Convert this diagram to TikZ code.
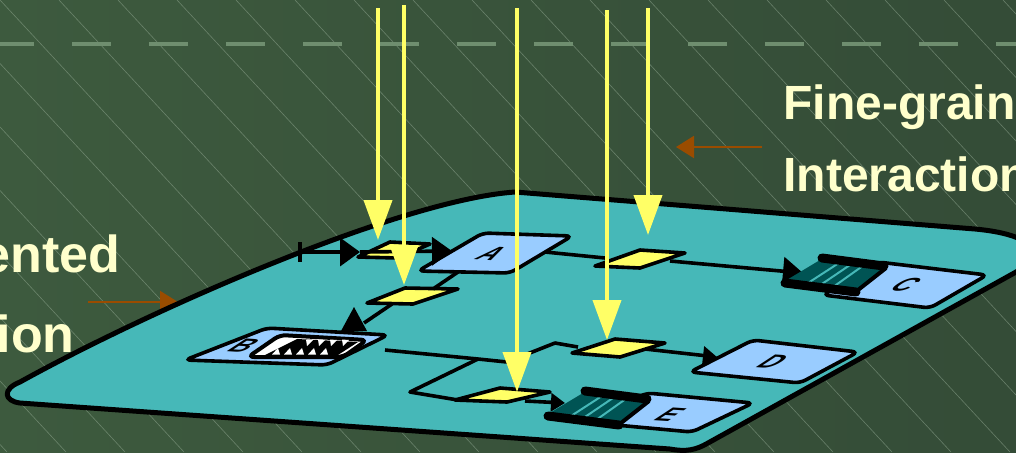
\documentclass[tikz,border=0pt]{standalone}
\usepackage{fontspec}
\setmainfont{Liberation Sans}
\usetikzlibrary{arrows.meta}
\definecolor{bgL}{HTML}{3D5A3E}
\definecolor{bgR}{HTML}{344C37}
\definecolor{hatchc}{HTML}{9AB09A}
\definecolor{dashc}{HTML}{6F8E6F}
\definecolor{boardc}{HTML}{46B8B8}
\definecolor{modc}{HTML}{99CCFF}
\definecolor{yel}{HTML}{FFFF66}
\definecolor{cream}{HTML}{FFFFCC}
\definecolor{brn}{HTML}{9A4C00}
\definecolor{qteal}{HTML}{005454}
\newcommand{\qicon}[2]{%
\begin{scope}[shift={(#1,#2)}]
\fill[qteal] (0,0) -- (66,8) -- (38,30) -- (-35,21) -- cycle;
\draw[boardc,line width=1pt] (19.8,2.4) -- (-13.1,23.7);
\draw[boardc,line width=1pt] (31.7,3.8) -- (0,25.3);
\draw[boardc,line width=1pt] (43.6,5.3) -- (13.2,26.9);
\draw[black,line width=4.5pt,line cap=round] (2,-2) -- (64,6);
\draw[black,line width=4.5pt,line cap=round] (-35,23) -- (36,32);
\draw[black,line width=2pt] (66,8) -- (38,30);
\end{scope}}
\begin{document}
\begin{tikzpicture}[x=0.5pt,y=-0.5pt,
  module/.style={fill=modc,draw=black,line width=1.8pt,rounded corners=3pt},
  ydia/.style={fill=yel,draw=black,line width=1.8pt,line join=round},
  conn/.style={draw=black,line width=1.8pt},
  bigtip/.style={-{Triangle[length=10pt,width=14pt]}},
  smalltip/.style={-{Triangle[length=7pt,width=9pt]}},
  yarrow/.style={draw=yel,line width=2pt,-{Triangle[length=20pt,width=14pt]}},
  oarrow/.style={draw=brn,line width=1pt,-{Triangle[length=9pt,width=11pt]}},
  lbl/.style={font=\bfseries\fontsize{14}{14}\selectfont,xslant=1.4,yscale=0.66,rotate=-5,inner sep=0},
  lefttext/.style={text=cream,font=\bfseries\fontsize{26}{30}\selectfont,inner sep=0,anchor=base east},
  righttext/.style={text=cream,font=\bfseries\fontsize{24}{28}\selectfont,inner sep=0,anchor=base west},
]
\useasboundingbox (0,0) rectangle (1016,452);
\clip (0,0) rectangle (1016,452);
% background
\shade[left color=bgL,right color=bgR] (0,0) rectangle (1016,452);
\foreach \i in {-9,...,18} \draw[hatchc,line width=0.3pt,opacity=0.5] (\i*59,0) -- ++(420,452);
\draw[dashc,line width=2pt,dash pattern=on 19.5pt off 19pt] (-5,44) -- (1040,44);
% texts
\node[lefttext] (t1) at (121,272) {ented};
\node[lefttext] (t2) at (75,352) {ion};
\node[righttext] (t3) at (783,119) {Fine-grain};
\node[righttext] (t4) at (783,191) {Interaction};
\coordinate (o1s) at (88,302);  \coordinate (o1e) at (178,302);
\coordinate (o2s) at (762,147); \coordinate (o2e) at (676,147);
\draw[oarrow] (o1s) -- (o1e);
\draw[oarrow] (o2s) -- (o2e);
% board
\draw[fill=boardc,draw=black,line width=2.5pt,line join=round]
  (20,403) .. controls (4,401) and (2,389) .. (20,382)
  .. controls (150,310) and (400,200) .. (515,192)
  -- (975,229) .. controls (1030,234) and (1050,252) .. (1016,272)
  -- (708,443) .. controls (696,450) and (686,452) .. (670,449) -- cycle;
% modules
\draw[module] (483,233) -- (572,236) -- (510,273) -- (418,271) -- cycle;
\draw[module] (267,328) -- (388,335) -- (327,365) -- (185,360) -- cycle;
\draw[module] (878,262) -- (987,275) -- (930,308) -- (823,295) -- cycle;
\draw[module] (753,340) -- (858,352) -- (800,383) -- (690,372) -- cycle;
\draw[module] (647,393) -- (753,403) -- (692,432) -- (583,422) -- cycle;
\node[lbl] (lA) at (492,254) {A};
\node[lbl] (lB) at (244,346) {B};
\node[lbl] (lC) at (906,285) {C};
\node[lbl] (lD) at (773,362) {D};
\node[lbl] (lE) at (670,415) {E};
% yellow diamonds
\draw[ydia] (390,242) -- (430,244) -- (398,258) -- (358,257) -- cycle;
\draw[ydia] (405,288) -- (458,289) -- (413,304) -- (367,303) -- cycle;
\draw[ydia] (640,250) -- (685,253) -- (640,268) -- (595,266) -- cycle;
\draw[ydia] (615,339) -- (665,343) -- (620,357) -- (572,353) -- cycle;
\draw[ydia] (500,388) -- (550,392) -- (507,402) -- (455,400) -- cycle;
% connection points
\coordinate (tick) at (300,252);
\coordinate (y1w) at (360,252);
\coordinate (ain) at (452,251);
\coordinate (abot) at (458,272);
\coordinate (y2n) at (433,289);
\coordinate (y2s) at (392,304);
\coordinate (bn) at (364,323);
\coordinate (aout) at (545,252);
\coordinate (y3w) at (605,258);
\coordinate (y3e) at (670,261);
\coordinate (cin) at (803,273);
\coordinate (bout) at (385,350);
\coordinate (jn) at (478,359);
\coordinate (k1) at (507,362);
\coordinate (k2) at (555,343);
\coordinate (y4w) at (578,347);
\coordinate (y4e) at (645,349);
\coordinate (din) at (717,357);
\coordinate (k3) at (410,392);
\coordinate (y5w) at (458,400);
\coordinate (y5e) at (525,401);
\coordinate (ein) at (565,403);
% connectors
\draw[conn] (300,242) -- (300,262);
\draw[conn,bigtip] (tick) -- (y1w);
\draw[conn,bigtip] (y1w) -- (ain);
\draw[conn] (abot) -- (y2n);
\draw[conn] (y2s) -- (bn);
\fill[black] (354,307) -- (367,331) -- (341,331) -- cycle;
\draw[conn] (aout) -- (y3w);
\draw[conn,bigtip] (y3e) -- (cin);
\draw[conn,line join=round] (bout) -- (jn) -- (k1) -- (k2) -- (y4w);
\draw[conn,smalltip] (y4e) -- (din);
\draw[conn,line join=round] (jn) -- (k3) -- (y5w);
\draw[conn,smalltip] (y5e) -- (ein);
% queue icons
\qicon{820}{260}
\qicon{583}{393}
% B icon
\draw[black,fill=white,line width=2pt,rounded corners=3pt] (280,335) -- (367,340) -- (343,357) -- (248,357) -- cycle;
\fill[black] (297,339) -- (358,342) -- (338,355) -- (265,355) -- cycle;
\foreach \x in {306,318,330,342} \fill[white] (\x,339.5) -- (\x+7,340) -- (\x+1,346) -- cycle;
\foreach \x in {272,284,296,308,320} \fill[white] (\x,354.5) -- (\x+8,354.5) -- (\x+6,348) -- cycle;
% yellow arrows
\coordinate (p1) at (378,8);  \coordinate (q1) at (378,240);
\coordinate (p2) at (404,5);  \coordinate (q2) at (404,285);
\coordinate (p3) at (517,8);  \coordinate (q3) at (517,392);
\coordinate (p4) at (607,10); \coordinate (q4) at (607,340);
\coordinate (p5) at (648,8);  \coordinate (q5) at (648,235);
\draw[yarrow] (p1) -- (q1);
\draw[yarrow] (p2) -- (q2);
\draw[yarrow] (p3) -- (q3);
\draw[yarrow] (p4) -- (q4);
\draw[yarrow] (p5) -- (q5);
\end{tikzpicture}
\end{document}
